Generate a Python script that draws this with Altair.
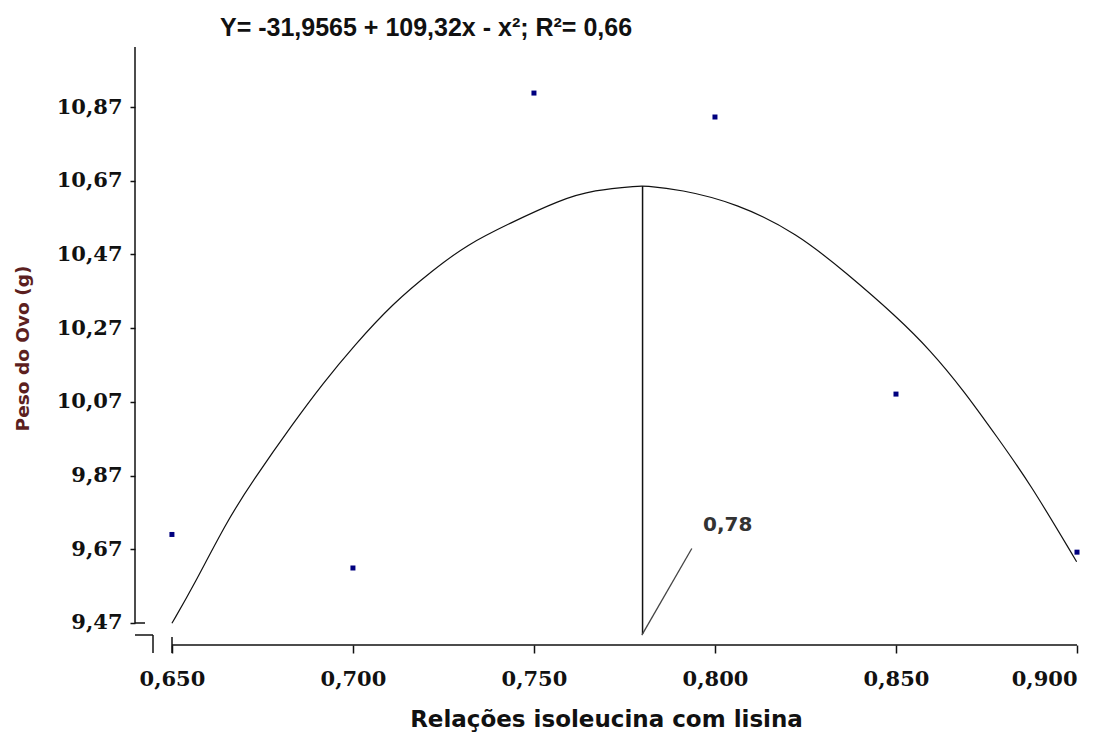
import altair as alt
import pandas as pd

# Observed means
obs_x = [0.650, 0.700, 0.750, 0.800, 0.850, 0.900]
obs_y = [9.710, 9.619, 10.908, 10.843, 10.091, 9.662]

# Fitted curve
curve_x = [0.650, 0.6559, 0.6651, 0.6725, 0.6835, 0.6918, 0.7001, 0.7111, 0.7222,
           0.7314, 0.7434, 0.7572, 0.7664, 0.7793, 0.7802, 0.7903, 0.8060, 0.8226,
           0.8364, 0.8502, 0.8594, 0.8686, 0.8778, 0.8870, 0.8999]
curve_y = [9.469, 9.569, 9.745, 9.858, 10.012, 10.121, 10.220, 10.338, 10.428,
           10.496, 10.555, 10.618, 10.645, 10.656, 10.656, 10.647, 10.609, 10.528,
           10.419, 10.301, 10.211, 10.102, 9.976, 9.849, 9.636]

# Optimum marker
opt_x = [0.78]
opt_top = [10.656]
opt_bottom = [9.44]
leader_x = [0.7798]
leader_x2 = [0.7936]
leader_y = [9.437]
leader_y2 = [9.672]
label_x = [0.7967]
label_y = [9.720]
label_text = ["0,78"]

x_ticks = [0.650, 0.700, 0.750, 0.800, 0.850, 0.900]
y_ticks = [9.47, 9.67, 9.87, 10.07, 10.27, 10.47, 10.67, 10.87]

title_text = "Y= -31,9565 + 109,32x - x²; R²= 0,66"
x_title = "Relações isoleucina com lisina"
y_title = "Peso do Ovo (g)"

W, H = 942, 598

xscale = alt.Scale(domain=[0.6398, 0.900], nice=False, zero=False)
yscale = alt.Scale(domain=[9.41, 11.033], nice=False, zero=False)

xaxis = alt.Axis(values=x_ticks, labelExpr="replace(format(datum.value,'.3f'),'.',',')",
                 domain=False, grid=False, tickSize=8, tickColor="#111", tickWidth=1.5,
                 labelFont="DejaVu Serif", labelFontWeight="bold", labelFontSize=21,
                 labelColor="#111", labelPadding=15,
                 title=x_title, titleFont="DejaVu Sans", titleFontWeight="bold",
                 titleFontSize=23, titleColor="#111", titleY=74, titleBaseline="middle")
yaxis = alt.Axis(values=y_ticks, labelExpr="replace(format(datum.value,'.2f'),'.',',')",
                 domain=False, grid=False, tickSize=5, tickColor="#111", tickWidth=1.5,
                 labelFont="DejaVu Serif", labelFontWeight="bold", labelFontSize=21,
                 labelColor="#111", labelPadding=8,
                 title=y_title, titleFont="DejaVu Sans", titleFontWeight="bold",
                 titleFontSize=18.5, titleColor="#5c1f1f", titleX=-113, titleY=301,
                 titleBaseline="middle")

curve_df = pd.DataFrame({"x": curve_x, "y": curve_y})
obs_df = pd.DataFrame({"x": obs_x, "y": obs_y})
opt_df = pd.DataFrame({"x": opt_x, "y": opt_top, "y2": opt_bottom})
lead_df = pd.DataFrame({"x": leader_x, "x2": leader_x2, "y": leader_y, "y2": leader_y2})
lab_df = pd.DataFrame({"x": label_x, "y": label_y, "t": label_text})
one = pd.DataFrame({"a": [0]})

X = alt.X("x:Q", scale=xscale, axis=xaxis)
Y = alt.Y("y:Q", scale=yscale, axis=yaxis)

curve = alt.Chart(curve_df).mark_line(color="#111", strokeWidth=1.2, interpolate="basis").encode(x=X, y=Y)
pts = alt.Chart(obs_df).mark_square(color="#00007f", size=25, opacity=1).encode(x=X, y=Y)
vline = alt.Chart(opt_df).mark_rule(color="#111", strokeWidth=1.5).encode(x=X, y=Y, y2="y2:Q")
leader = alt.Chart(lead_df).mark_rule(color="#444", strokeWidth=1.3).encode(x=X, x2="x2:Q", y=Y, y2="y2:Q")
label = alt.Chart(lab_df).mark_text(font="DejaVu Sans", fontWeight="bold", fontSize=20,
                                    color="#333", align="left", baseline="alphabetic").encode(
    x=X, y=Y, text="t:N")

# Chart title (regression equation)
ttl = alt.Chart(one).mark_text(font="Liberation Sans", fontWeight="bold", fontSize=25,
                               color="#111", align="left", baseline="middle").encode(
    x=alt.value(85), y=alt.value(-19), text=alt.value(title_text))

ax = dict(color="#111", strokeWidth=1.5)
# Broken axes drawn as rules
y_line = alt.Chart(one).mark_rule(**ax).encode(x=alt.value(0), y=alt.value(0), y2=alt.value(576))
y_cap = alt.Chart(one).mark_rule(**ax).encode(x=alt.value(0), x2=alt.value(10), y=alt.value(576))
brk_h = alt.Chart(one).mark_rule(**ax).encode(x=alt.value(0), x2=alt.value(18), y=alt.value(588))
brk_v = alt.Chart(one).mark_rule(**ax).encode(x=alt.value(18), y=alt.value(588), y2=alt.value(606))
x_start = alt.Chart(one).mark_rule(**ax).encode(x=alt.value(37), y=alt.value(590), y2=alt.value(606))
x_line = alt.Chart(one).mark_rule(**ax).encode(x=alt.value(37), x2=alt.value(W), y=alt.value(H))

chart = alt.layer(curve, vline, leader, pts, label, ttl,
                  y_line, y_cap, brk_h, brk_v, x_start, x_line).properties(
    width=W, height=H,
    autosize=alt.AutoSizeParams(type="none"),
    padding={"left": 127, "top": 39, "right": 20, "bottom": 87},
    background="white",
).configure_view(stroke=None)

chart.save("out.html", embed_options={"renderer": "svg", "actions": False})
